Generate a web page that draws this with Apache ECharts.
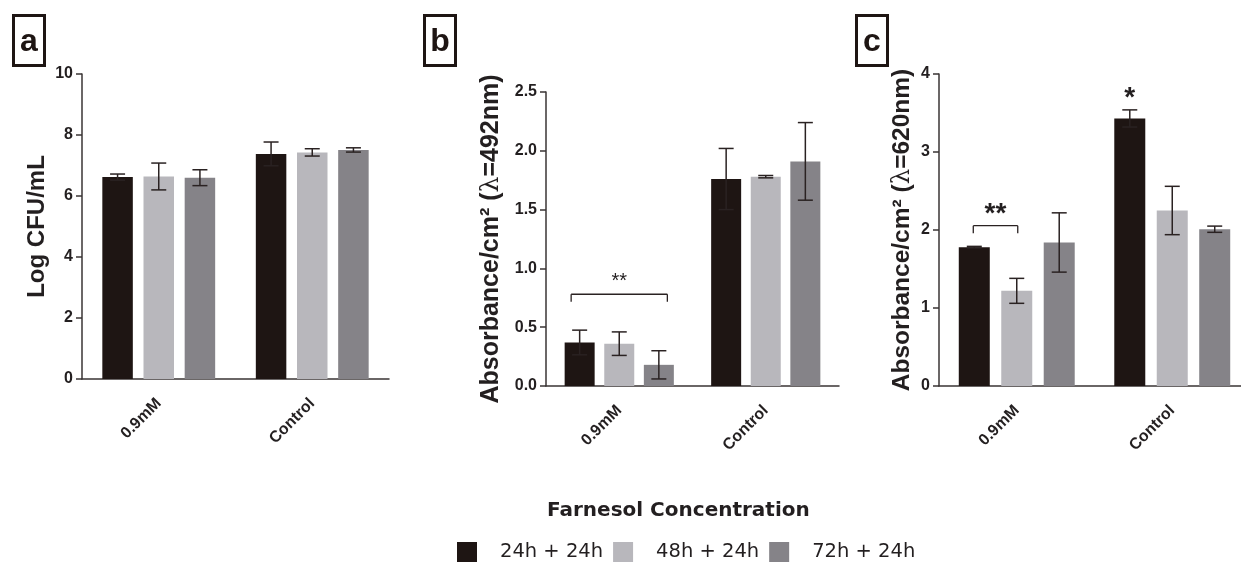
<!DOCTYPE html>
<html><head><meta charset="utf-8">
<script src="https://cdn.jsdelivr.net/npm/echarts@6/dist/echarts.min.js"></script>
<style>html,body{margin:0;padding:0;background:#fff}#c{width:1241px;height:562px}</style>
</head><body><div id="c"></div>
<script>
const categories = ['0.9mM', 'Control'];
const seriesNames = ['24h + 24h', '48h + 24h', '72h + 24h'];
const colors = ['#1e1513', '#b8b7bc', '#858388'];

// panel a: Log CFU/mL
const a24 = [6.62, 7.38], a24err = [0.10, 0.39];
const a48 = [6.64, 7.43], a48err = [0.44, 0.12];
const a72 = [6.60, 7.51], a72err = [0.26, 0.07];
// panel b: absorbance 492nm
const b24 = [0.37, 1.76], b24err = [0.105, 0.26];
const b48 = [0.36, 1.78], b48err = [0.10, 0.01];
const b72 = [0.18, 1.91], b72err = [0.12, 0.33];
// panel c: absorbance 620nm
const c24 = [1.78, 3.43], c24err = [0.01, 0.11];
const c48 = [1.22, 2.25], c48err = [0.16, 0.31];
const c72 = [1.84, 2.01], c72err = [0.38, 0.04];
// significance: [category, fromBar, toBar, yValue, label]
const bBrackets = [[0, 0, 2, 0.78, '**']];
const cBrackets = [[0, 0, 1, 2.055, '**']];
// single stars: [category, bar, yValue, label]
const cStars = [[1, 0, 3.77, '*']];

const FF = '"Liberation Sans", Arial, Helvetica, sans-serif';
const FW = '"DejaVu Sans", Verdana, sans-serif';
const TXT = '#231f20';
const panels = [
  {vals:[a24,a48,a72], errs:[a24err,a48err,a72err], grid:{left:82, top:74, width:307, height:305}, max:10, interval:2, dec:0, bw:30.5, gap:0.35,
   name:'Log CFU/mL', nameGap:33, nameSize:24, letter:'a', box:[12,14]},
  {vals:[b24,b48,b72], errs:[b24err,b48err,b72err], grid:{left:546, top:92, width:293, height:294}, max:2.5, interval:0.5, dec:1, bw:30, gap:0.32,
   name:'Absorbance/cm² ({l|λ}=492nm)', nameGap:42, nameSize:25, letter:'b', box:[423,14],
   brackets:bBrackets, bFont:'normal 20px', bOff:13, bPad:8.5},
  {vals:[c24,c48,c72], errs:[c24err,c48err,c72err], grid:{left:939, top:74, width:311, height:312}, max:4, interval:1, dec:0, bw:31, gap:0.37,
   name:'Absorbance/cm² ({l|λ}=620nm)', nameGap:24, nameSize:24.5, letter:'c', box:[855,14],
   brackets:cBrackets, bFont:'bold 28px', bOff:11, bPad:1, stars:cStars}
];

const grids=[], xAxes=[], yAxes=[], series=[], graphics=[];
const lineStyle = {stroke:'#2a2222', lineWidth:1.5};
panels.forEach((p, gi) => {
  grids.push(Object.assign({containLabel:false, outerBoundsMode:'none'}, p.grid));
  xAxes.push({type:'category', gridIndex:gi, data:categories,
    axisLine:{lineStyle:{color:'#3a3535', width:1.5}},
    axisTick:{alignWithLabel:true, length:7, lineStyle:{color:'#3a3535', width:1.5}},
    axisLabel:{rotate:45, margin:22, fontFamily:FF, fontWeight:'bold', fontSize:16, color:TXT}});
  yAxes.push({type:'value', gridIndex:gi, min:0, max:p.max, interval:p.interval,
    splitLine:{show:false},
    axisLine:{show:true, lineStyle:{color:'#3a3535', width:1.5}},
    axisTick:{show:true, length:6, lineStyle:{color:'#3a3535', width:1.5}},
    axisLabel:{fontFamily:FF, fontWeight:'bold', fontSize:16, color:TXT, margin:9,
      formatter: v => v.toFixed(p.dec)},
    name:p.name, nameLocation:'middle', nameRotate:90, nameGap:p.nameGap,
    nameTextStyle:{fontFamily:FF, fontWeight:'bold', fontSize:p.nameSize, color:TXT,
      rich:{l:{fontFamily:'"DejaVu Serif", serif', fontWeight:'normal', fontSize:p.nameSize, color:TXT}}}});
  const step = p.bw * (1 + p.gap);
  p.vals.forEach((arr, si) => {
    series.push({type:'bar', name:seriesNames[si], xAxisIndex:gi, yAxisIndex:gi, data:arr,
      barWidth:p.bw, barGap:(p.gap*100)+'%', itemStyle:{color:colors[si]}, z:2});
  });
  const errData = [];
  p.vals.forEach((arr, si) => arr.forEach((v, ci) => errData.push([ci, v, p.errs[si][ci], si])));
  series.push({type:'custom', xAxisIndex:gi, yAxisIndex:gi, data:errData, z:5, silent:true,
    encode:{x:0, y:1},
    renderItem:(params, api) => {
      const ci = api.value(0), v = api.value(1), e = api.value(2), si = api.value(3);
      const x = api.coord([ci, v])[0] + (si - 1) * step;
      const t = api.coord([ci, v + e])[1], b = api.coord([ci, v - e])[1];
      const cw = 7.5;
      return {type:'group', children:[
        {type:'line', shape:{x1:x, y1:t, x2:x, y2:b}, style:lineStyle},
        {type:'line', shape:{x1:x-cw, y1:t, x2:x+cw, y2:t}, style:lineStyle},
        {type:'line', shape:{x1:x-cw, y1:b, x2:x+cw, y2:b}, style:lineStyle}]};
    }});
  if (p.brackets) {
    series.push({type:'custom', xAxisIndex:gi, yAxisIndex:gi, data:p.brackets.map(d => d.slice(0,4)), z:6, silent:true,
      encode:{x:0, y:3},
      renderItem:(params, api) => {
        const d = p.brackets[params.dataIndex];
        const c = api.coord([d[0], d[3]]);
        const x1 = c[0] + (d[1] - 1) * step - p.bPad, x2 = c[0] + (d[2] - 1) * step + p.bPad;
        const y = c[1];
        const ls = {stroke:'#2a2222', lineWidth:1.3};
        return {type:'group', children:[
          {type:'line', shape:{x1:x1, y1:y, x2:x2, y2:y}, style:ls},
          {type:'line', shape:{x1:x1, y1:y, x2:x1, y2:y+7.5}, style:ls},
          {type:'line', shape:{x1:x2, y1:y, x2:x2, y2:y+7.5}, style:ls},
          {type:'text', style:{text:d[4], x:(x1+x2)/2, y:y-p.bOff, textAlign:'center', textVerticalAlign:'middle',
            font:p.bFont + ' ' + FF, fill:TXT}}]};
      }});
  }
  if (p.stars) {
    series.push({type:'custom', xAxisIndex:gi, yAxisIndex:gi, data:p.stars.map(d => [d[0], d[2], d[1]]), z:6, silent:true,
      encode:{x:0, y:1},
      renderItem:(params, api) => {
        const d = p.stars[params.dataIndex];
        const c = api.coord([d[0], d[2]]);
        return {type:'text', style:{text:d[3], x:c[0] + (d[1] - 1) * step, y:c[1] + 6, textAlign:'center', textVerticalAlign:'middle',
          font:'bold 28px ' + FF, fill:TXT}};
      }});
  }
  graphics.push({type:'group', left:p.box[0], top:p.box[1], children:[
    {type:'rect', shape:{x:1.5, y:1.5, width:31, height:50}, style:{fill:'#fff', stroke:'#1e1513', lineWidth:3}},
    {type:'text', style:{text:p.letter, x:17, y:28, textAlign:'center', textVerticalAlign:'middle',
      font:'bold 32px ' + FF, fill:'#1e1513'}}]});
});

const chart = echarts.init(document.getElementById('c'), null, {renderer:'canvas'});
chart.setOption({
  animation:false,
  backgroundColor:'#fff',
  title:{text:'Farnesol Concentration', left:547, top:501, padding:0,
    textStyle:{fontFamily:FW, fontWeight:'bold', fontSize:20, color:TXT}},
  legend:{data:seriesNames, left:457, top:542, padding:0, itemWidth:20, itemHeight:20, itemGap:10,
    icon:'rect', textStyle:{fontFamily:FW, fontSize:19.5, color:TXT, padding:[0,0,0,18]}},
  grid:grids, xAxis:xAxes, yAxis:yAxes, series:series, graphic:graphics
});
</script></body></html>
